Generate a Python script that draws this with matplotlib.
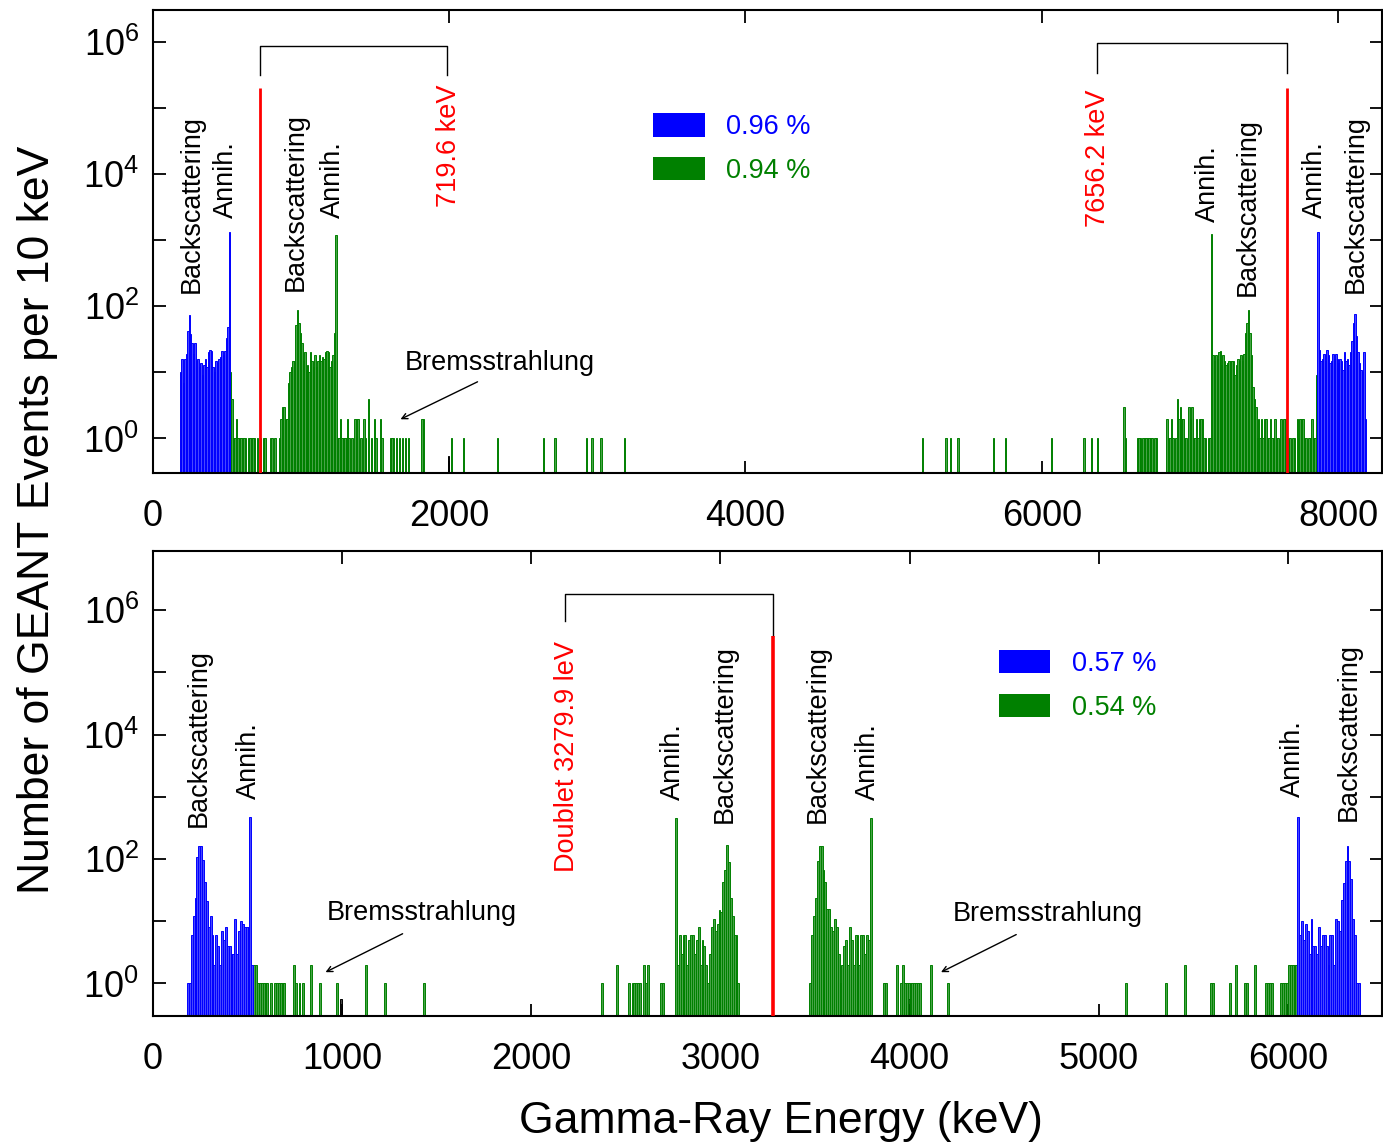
import matplotlib
matplotlib.use('Agg')
import matplotlib.pyplot as plt
from matplotlib.patches import Patch
from matplotlib.colors import to_rgba
from matplotlib.ticker import NullFormatter

plt.rcParams['font.family'] = ['Liberation Sans', 'DejaVu Sans']
plt.rcParams['mathtext.fontset'] = 'custom'
plt.rcParams['mathtext.rm'] = 'Liberation Sans'

BIN = 10  # keV per bin

# ---------------- upper panel (719.6 keV / 7656.2 keV) ----------------
top_blue_lo_start = 180
top_blue_lo = [10, 16, 7, 16, 19, 42, 74, 38, 28, 19, 28, 15, 16, 12, 14, 9, 13, 16,
               12, 20, 22, 21, 12, 10, 15, 14, 16, 17, 21, 18, 21, 33, 48, 1310]
top_blue_hi_start = 7860
top_blue_hi = [1340, 22, 15, 16, 19, 15, 22, 18, 14, 15, 19, 16, 19, 16, 14, 16, 15,
               11, 20, 15, 16, 13, 20, 30, 55, 75, 36, 20, 14, 11, 10, 20, 2]

top_green_lo_start = 520
top_green_lo = [10, 4, 1, 1, 2, 1, 1, 1, 1, 1, 1, 0, 1, 1, 1, 1, 1, 0, 1, 0, 1, 0,
                1, 1, 0, 0, 0, 1, 1, 0, 1, 0, 0, 1, 2, 3, 3, 2, 2, 7, 10, 12,
                15, 15, 52, 88, 55, 40, 28, 15, 20, 11, 13, 10, 20, 15, 12, 18, 12,
                15, 18, 15, 17, 16, 20, 21, 20, 12, 15, 18, 40, 1200]
top_green_hi_start = 7140
top_green_hi = [1230, 18, 15, 18, 16, 20, 21, 13, 18, 15, 13, 14, 15, 15, 15, 15, 9,
                13, 16, 15, 18, 15, 19, 39, 55, 88, 39, 18, 6, 4, 3, 1, 2, 1, 2]
top_green_e = [1240, 1250, 1260, 1270, 1280, 1290, 1300, 1310, 1320, 1340, 1360, 1370,
               1380, 1400, 1420, 1430, 1450, 1470, 1490, 1500, 1530, 1540, 1600, 1610,
               1620, 1640, 1660, 1680, 1700, 1720, 1810, 1820,
               2010, 2090, 2320, 2630, 2710, 2920, 2960, 3020, 3180,
               5190, 5350, 5380, 5430, 5670, 5750, 6060, 6280, 6330, 6370,
               6550, 6560, 6640, 6650, 6660, 6680, 6690, 6700, 6710, 6720, 6730, 6740,
               6760, 6770, 6840, 6850, 6860, 6870, 6880, 6900, 6910, 6920, 6930, 6940,
               6950, 6960, 6970, 6990, 7000, 7010, 7020, 7030, 7040, 7050, 7060, 7070,
               7080, 7090, 7100, 7120, 7130,
               7490, 7500, 7510, 7520, 7530, 7540, 7550, 7560, 7570, 7580, 7590, 7610,
               7630, 7640, 7660, 7670, 7690, 7700, 7720, 7730, 7740, 7750, 7760, 7770,
               7780, 7800, 7810, 7820, 7830, 7840, 7850]
top_green_n = [1, 1, 2, 1, 1, 1, 1, 2, 1, 1, 2, 2,
               2, 1, 2, 1, 4, 1, 2, 1, 2, 1, 1, 1,
               1, 1, 1, 1, 1, 1, 2, 2,
               1, 1, 1, 1, 1, 1, 1, 1, 1,
               1, 1, 1, 1, 1, 1, 1, 1, 1, 1,
               3, 1, 1, 1, 1, 1, 1, 1, 1, 1, 1, 1,
               1, 1, 2, 1, 1, 2, 1, 1, 4, 2, 3, 2,
               2, 1, 1, 3, 2, 3, 1, 1, 2, 1, 2, 2,
               2, 1, 1, 1, 1,
               1, 2, 2, 1, 1, 2, 1, 1, 2, 1, 1, 2,
               2, 2, 1, 1, 1, 1, 2, 1, 2, 2, 2, 1,
               1, 1, 1, 2, 1, 1, 9]
top_black_e = [1990]
top_black_n = [0.55]
top_lines = [719.6, 7656.2]

# ---------------- lower panel (doublet 3279.9 keV) ----------------
bot_blue_lo_start = 180
bot_blue_lo = [1, 1, 6, 12, 24, 110, 165, 160, 95, 43, 21, 8, 12, 6, 2, 6, 4, 2, 7, 5,
               8, 4, 4, 3, 3, 11, 3, 7, 10, 9, 8, 8, 8, 480, 2]
bot_blue_hi_start = 6050
bot_blue_hi = [480, 6, 10, 5, 9, 7, 3, 11, 4, 4, 3, 8, 4, 6, 6, 4, 2, 6, 6, 2, 11, 10,
               7, 22, 41, 94, 165, 94, 47, 11, 6, 1, 1]
bot_green_a_start = 2760
bot_green_a = [450, 2, 6, 3, 6, 6, 2, 5, 6, 6, 3, 5, 8, 2, 5, 4, 2, 1, 3, 8, 11, 7, 9,
               15, 14, 43, 66, 170, 91, 24, 12, 6, 6, 1]
bot_green_b_start = 3470
bot_green_b = [1, 6, 12, 24, 94, 165, 160, 66, 43, 16, 16, 8, 7, 11, 8, 3, 1, 2, 4, 5,
               2, 8, 5, 2, 6, 6, 2, 6, 6, 3, 6, 5, 450]
bot_green_e = [530, 540, 550, 560, 570, 580, 590, 600, 620, 640, 650, 660, 670, 680, 690,
               740, 750, 770, 790, 830, 880, 970, 1120, 1220, 1430,
               2370, 2450, 2510, 2530, 2540, 2550, 2560, 2570, 2590, 2600, 2610, 2680, 2690,
               3860, 3870, 3930, 3950, 3960, 3970, 3980, 3990, 4000, 4010, 4020, 4030,
               4040, 4050, 4110, 4200,
               5140, 5350, 5450, 5590, 5600, 5690, 5720, 5770, 5780, 5820, 5880, 5890,
               5900, 5910, 5960, 5970, 5980, 5990, 6000, 6010, 6020, 6030, 6040]
bot_green_n = [2, 2, 1, 1, 1, 1, 1, 1, 1, 1, 1, 1, 1, 1, 1,
               2, 1, 1, 1, 2, 1, 1, 2, 1, 1,
               1, 2, 1, 1, 1, 1, 1, 1, 2, 1, 2, 1, 1,
               1, 1, 2, 1, 2, 1, 1, 1, 1, 1, 1, 1,
               1, 1, 2, 1,
               1, 1, 2, 1, 1, 1, 2, 1, 1, 2, 1, 1,
               1, 1, 1, 1, 1, 1, 2, 2, 2, 2, 2]
bot_black_e = [990, 3990]
bot_black_n = [0.57, 0.57]
bot_line = 3279.9

BLUE = '#0000ff'
GREEN = '#008000'
RED = '#ff0000'
FS = 19.5


def run(start, counts):
    return [start + BIN * i for i in range(len(counts))], list(counts)


def hist(ax, e, n, color):
    e2 = [a for a, b in zip(e, n) if b > 0]
    n2 = [b for b in n if b > 0]
    ax.bar(e2, n2, width=BIN, align='edge', facecolor=to_rgba(color, 0.72),
           edgecolor=color, linewidth=0.7, zorder=2)


def style(ax, xlim, ylim, xticks):
    ax.set_yscale('log')
    ax.set_xlim(*xlim)
    ax.set_ylim(*ylim)
    ax.set_xticks(xticks)
    ax.set_xticklabels([str(t) for t in xticks])
    ax.set_yticks([1, 1e2, 1e4, 1e6])
    ax.set_yticks([10, 1e3, 1e5], minor=True)
    ax.yaxis.set_minor_formatter(NullFormatter())
    ax.tick_params(which='both', direction='in', top=True, right=True,
                   length=9, width=1.3, labelsize=26)
    ax.tick_params(axis='x', pad=19)
    ax.tick_params(axis='y', pad=10)
    for s in ax.spines.values():
        s.set_linewidth(1.5)


def vtext(ax, x, y, s, color='black'):
    ax.text(x, y, s, rotation=90, ha='center', va='bottom', fontsize=FS,
            color=color, zorder=5)


def legend(ax, labels, anchor):
    ax.legend(handles=[Patch(facecolor=BLUE, edgecolor='none'),
                       Patch(facecolor=GREEN, edgecolor='none')],
              labels=labels, labelcolor=[BLUE, GREEN],
              loc='upper left', bbox_to_anchor=anchor, frameon=False,
              fontsize=FS, handlelength=1.9, handleheight=0.95, handletextpad=0.8,
              labelspacing=0.62, borderpad=0, borderaxespad=0)


fig = plt.figure(figsize=(13.83, 11.44), dpi=100)
ax1 = fig.add_axes([0.1106, 0.5865, 0.8890, 0.4047])
ax2 = fig.add_axes([0.1106, 0.1119, 0.8890, 0.4065])

# ---- upper panel ----
hist(ax1, top_black_e, top_black_n, 'black')
hist(ax1, *run(top_green_lo_start, top_green_lo), GREEN)
hist(ax1, *run(top_green_hi_start, top_green_hi), GREEN)
hist(ax1, top_green_e, top_green_n, GREEN)
hist(ax1, *run(top_blue_lo_start, top_blue_lo), BLUE)
hist(ax1, *run(top_blue_hi_start, top_blue_hi), BLUE)
ax1.vlines(top_lines, 0.3, 2e5, color=RED, lw=2.0, zorder=3)
ax1.plot([719.6, 719.6, 1985, 1985], [3.1e5, 8.7e5, 8.7e5, 3.1e5], color='black', lw=1)
ax1.plot([6375, 6375, 7656.2, 7656.2], [3.3e5, 9.4e5, 9.4e5, 3.3e5], color='black', lw=1)
style(ax1, (0, 8300), (0.3, 3e6), [0, 2000, 4000, 6000, 8000])

vtext(ax1, 263, 160, 'Backscattering')
vtext(ax1, 493, 2150, 'Annih.')
vtext(ax1, 966, 170, 'Backscattering')
vtext(ax1, 1215, 2150, 'Annih.')
vtext(ax1, 1999, 3150, '719.6 keV', RED)
vtext(ax1, 6381, 1580, '7656.2 keV', RED)
vtext(ax1, 7124, 1870, 'Annih.')
vtext(ax1, 7394, 143, 'Backscattering')
vtext(ax1, 7846, 2150, 'Annih.')
vtext(ax1, 8123, 160, 'Backscattering')
ax1.text(2343, 14, 'Bremsstrahlung', ha='center', va='center', fontsize=FS)
ax1.annotate('', xy=(1654, 1.87), xytext=(2208, 7.5),
             arrowprops=dict(arrowstyle='->', color='black', lw=1))
legend(ax1, ['0.96 %', '0.94 %'], (0.407, 0.777))

# ---- lower panel ----
hist(ax2, bot_black_e, bot_black_n, 'black')
hist(ax2, *run(bot_green_a_start, bot_green_a), GREEN)
hist(ax2, *run(bot_green_b_start, bot_green_b), GREEN)
hist(ax2, bot_green_e, bot_green_n, GREEN)
hist(ax2, *run(bot_blue_lo_start, bot_blue_lo), BLUE)
hist(ax2, *run(bot_blue_hi_start, bot_blue_hi), BLUE)
ax2.vlines(bot_line, 0.3, 3.8e5, color=RED, lw=2.6, zorder=3)
ax2.plot([2180, 2180, bot_line, bot_line], [6.8e5, 1.86e6, 1.86e6, 3.8e5], color='black', lw=1)
style(ax2, (0, 6500), (0.3, 9e6), [0, 1000, 2000, 3000, 4000, 5000, 6000])

vtext(ax2, 243, 333, 'Backscattering')
vtext(ax2, 508, 940, 'Annih.')
vtext(ax2, 2190, 63, 'Doublet 3279.9 leV', RED)
vtext(ax2, 2751, 875, 'Annih.')
vtext(ax2, 3021, 386, 'Backscattering')
vtext(ax2, 3513, 386, 'Backscattering')
vtext(ax2, 3778, 875, 'Annih.')
vtext(ax2, 6026, 1000, 'Annih.')
vtext(ax2, 6323, 417, 'Backscattering')
ax2.text(1423, 13.8, 'Bremsstrahlung', ha='center', va='center', fontsize=FS)
ax2.annotate('', xy=(899, 1.45), xytext=(1333, 6.6),
             arrowprops=dict(arrowstyle='->', color='black', lw=1))
ax2.text(4730, 12.9, 'Bremsstrahlung', ha='center', va='center', fontsize=FS)
ax2.annotate('', xy=(4153, 1.45), xytext=(4577, 6.4),
             arrowprops=dict(arrowstyle='->', color='black', lw=1))
legend(ax2, ['0.57 %', '0.54 %'], (0.688, 0.787))

fig.text(38 / 1383, 1 - 520 / 1144, 'Number of GEANT Events per 10 keV',
         rotation=90, ha='center', va='center', fontsize=32)
fig.text(781 / 1383, 1 - 1121 / 1144, 'Gamma-Ray Energy (keV)',
         ha='center', va='center', fontsize=32)

fig.savefig('out.png', dpi=100)
